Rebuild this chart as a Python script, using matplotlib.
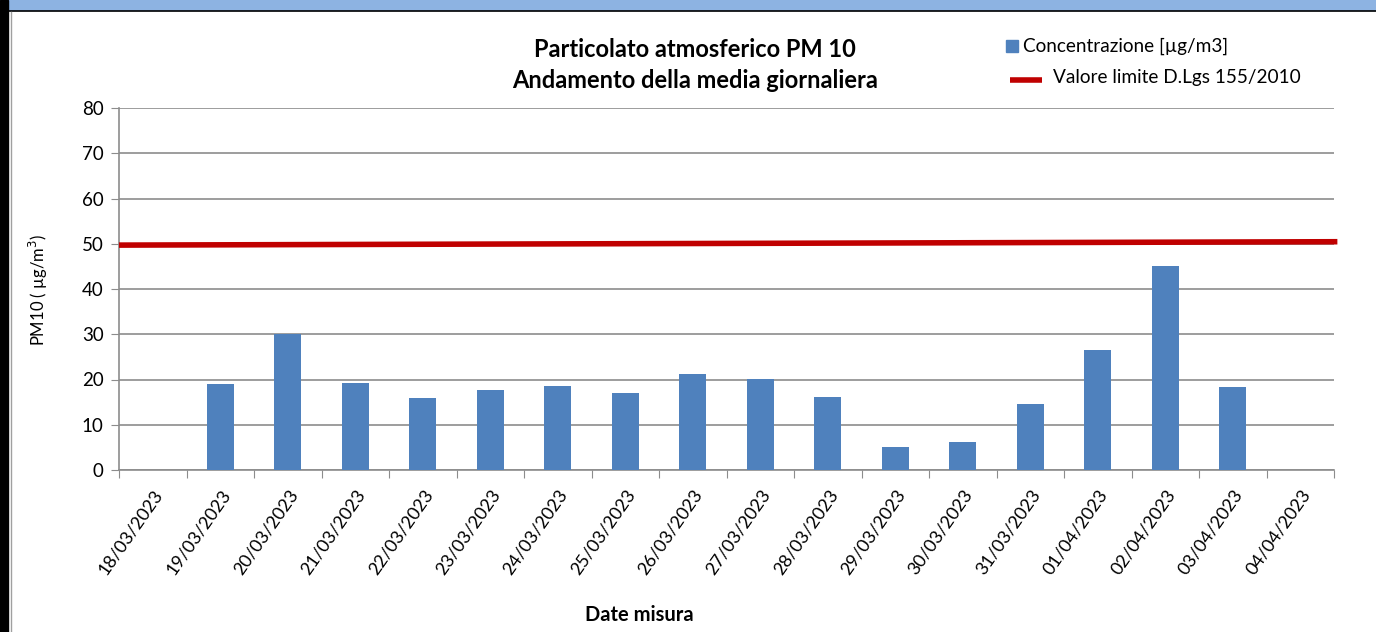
import matplotlib.pyplot as plt
import numpy as np
from matplotlib.patches import Rectangle
from matplotlib.lines import Line2D

plt.rcParams['font.family'] = ['Lato', 'DejaVu Sans']

dates = ['18/03/2023', '19/03/2023', '20/03/2023', '21/03/2023', '22/03/2023',
         '23/03/2023', '24/03/2023', '25/03/2023', '26/03/2023', '27/03/2023',
         '28/03/2023', '29/03/2023', '30/03/2023', '31/03/2023', '01/04/2023',
         '02/04/2023', '03/04/2023', '04/04/2023']
concentrazione = [np.nan, 19.0, 30.0, 19.2, 15.9, 17.7, 18.6, 17.0, 21.2, 20.1,
                  16.1, 5.1, 6.2, 14.6, 26.5, 45.1, 18.3, np.nan]
limite = [49.7, 50.45]  # start / end of the drawn limit line
yticks = [0, 10, 20, 30, 40, 50, 60, 70, 80]

bar_color = '#4F81BD'
line_color = '#C00000'
grid_color = '#8C8C8C'

W, H = 1376, 632
fig = plt.figure(figsize=(W / 100, H / 100), dpi=100)
# header band and frame
fig.patches.append(Rectangle((0, 1 - 10 / H), 1, 10 / H, transform=fig.transFigure,
                             color='#8DB3E2', zorder=0))
fig.add_artist(Line2D([0, 1], [1 - 11 / H] * 2, color='black', lw=1.2))
fig.patches.append(Rectangle((0, 0), 8 / W, 1, transform=fig.transFigure,
                             color='black', zorder=0))
fig.add_artist(Line2D([11 / W] * 2, [0, 1 - 12 / H], color='#A0A0A0', lw=1))

ax = fig.add_axes([119 / W, 1 - 470 / H, (1334 - 119) / W, (470 - 108) / H])
x = np.arange(len(dates))
ax.bar(x, concentrazione, width=0.4, color=bar_color, zorder=3)
ax.plot([-0.5, len(dates) - 0.45], limite, color=line_color, lw=4, zorder=4,
        solid_capstyle='butt', clip_on=False)

ax.set_xlim(-0.5, len(dates) - 0.5)
ax.set_ylim(0, 80)
ax.set_yticks(yticks)
ax.tick_params(axis='y', labelsize=13.5, length=6, color=grid_color, pad=5)
ax.yaxis.grid(True, color=grid_color, lw=1.2, zorder=0)
ax.set_xticks(np.arange(len(dates) + 1) - 0.5, minor=False)
ax.set_xticklabels([])
ax.set_xticks(x, minor=True)
ax.set_xticklabels(dates, minor=True, rotation=55, ha='right', va='top',
                   rotation_mode='anchor', fontsize=13)
ax.tick_params(axis='x', which='major', length=6, color=grid_color)
ax.tick_params(axis='x', which='minor', length=0, pad=12)
for s in ['top', 'right']:
    ax.spines[s].set_visible(False)
for s in ['left', 'bottom']:
    ax.spines[s].set_color(grid_color)
    ax.spines[s].set_linewidth(1.2)

fig.text(38 / W, 1 - 290 / H, 'PM10 ( µg/m$^3$)', rotation=90, ha='center', va='center',
         fontsize=12)
fig.text(639 / W, 1 - 615 / H, 'Date misura', ha='center', va='center',
         fontsize=14.5, fontweight='bold')

fig.text(695 / W, 1 - 65 / H, 'Particolato atmosferico PM 10\nAndamento della media giornaliera',
         ha='center', va='center', fontsize=17, fontweight='bold', linespacing=1.45)

# legend
fig.patches.append(Rectangle((1006 / W, 1 - 52 / H), 12 / W, 12 / H,
                             transform=fig.transFigure, color=bar_color))
fig.text(1023 / W, 1 - 46 / H, 'Concentrazione [µg/m3]', ha='left', va='center',
         fontsize=13.7)
fig.add_artist(Line2D([1010 / W, 1042 / W], [1 - 80 / H] * 2, color=line_color, lw=4,
                      solid_capstyle='butt'))
fig.text(1053 / W, 1 - 78 / H, 'Valore limite D.Lgs 155/2010', ha='left', va='center',
         fontsize=13.7)

fig.savefig('out.png', dpi=100)
